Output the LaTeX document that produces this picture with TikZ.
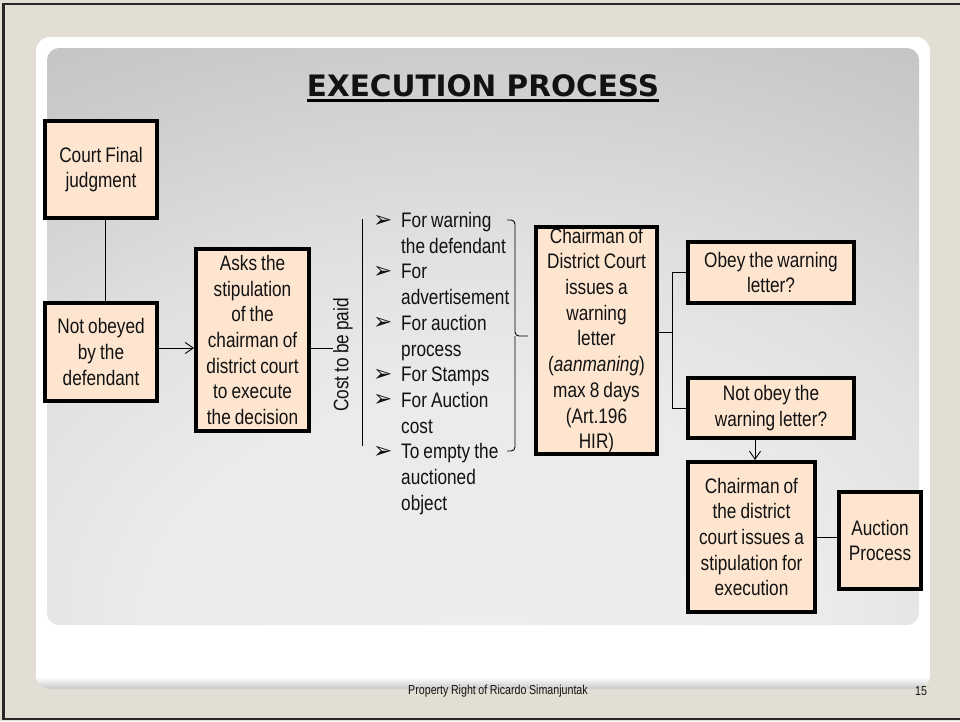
\documentclass[tikz,border=0pt]{standalone}
\usepackage{fontspec}
\setmainfont{Liberation Sans}[FakeStretch=0.82, WordSpace=0.85]
\newfontfamily\headfont{DejaVu Sans}
\newfontfamily\dingfont{DejaVu Sans}
\usetikzlibrary{arrows.meta}

\definecolor{slidebg}{RGB}{227,222,211}
\definecolor{boxfill}{RGB}{253,229,207}
\definecolor{inkc}{RGB}{18,18,18}

% soft grey glow of the content panel, lightest towards the lower middle
\pgfdeclareradialshading{panelglow}{\pgfpoint{0bp}{-30bp}}{%
  rgb(0bp)=(0.93,0.93,0.93); rgb(20bp)=(0.92,0.92,0.92);
  rgb(30bp)=(0.88,0.88,0.88); rgb(45bp)=(0.79,0.79,0.79);
  rgb(58bp)=(0.73,0.73,0.73); rgb(70bp)=(0.69,0.69,0.69);
  rgb(85bp)=(0.64,0.64,0.64); rgb(110bp)=(0.61,0.61,0.61)}

\newcommand\bodytext{\fontsize{21pt}{25.7pt}\selectfont}
\newcommand\bulletmark{\makebox[28pt][l]{\raisebox{0.5pt}{\dingfont\fontsize{23pt}{23pt}\selectfont ➢}}}

\begin{document}
\begin{tikzpicture}[x=1pt,y=-1pt,
  every node/.style={inner sep=0pt, text=inkc},
  flowbox/.style={draw=black, line width=3.8pt, fill=boxfill, align=flush center, font=\bodytext},
  link/.style={line width=0.9pt, draw=black},
  arrowlink/.style={link, -{Straight Barb[length=8pt,width=11pt]}}]

\useasboundingbox (0,0) rectangle (960,721);

% slide background and frame
\fill[slidebg] (0,0) rectangle (960,721);
\draw[line width=2.4pt, black!85] (966,4) -- (3.5,4) -- (3.5,719) -- (966,719);

% white card with a soft lower edge
\begin{scope}
  \clip[rounded corners=14pt] (36,37) rectangle (930,689);
  \fill[white] (36,37) rectangle (930,689);
  \shade[top color=white, bottom color=black!22] (36,677) rectangle (930,689);
\end{scope}

% grey content panel
\shade[shading=panelglow, rounded corners=12pt] (47,48) rectangle (919,625);

% heading
\node[anchor=base, font=\headfont\bfseries\fontsize{29.5pt}{33pt}\selectfont] (title) at (483,96.7) {EXECUTION PROCESS};
\draw[line width=2.8pt, black] ([yshift=-3.4pt]title.base west) -- ([yshift=-3.4pt]title.base east);

% process boxes
\node[flowbox, minimum width=112.2pt, minimum height=97.2pt, text width=108pt] (court) at (101,169.5) {Court Final\\judgment};
\node[flowbox, minimum width=112.2pt, minimum height=98.2pt, text width=108pt] (notob) at (101,352) {Not obeyed\\by the\\defendant};
\node[flowbox, minimum width=113.2pt, minimum height=182.2pt, text width=110pt] (asks) at (252.5,340) {Asks the\\stipulation\\of the\\chairman of\\district court\\to execute\\the decision};
\node[flowbox, minimum width=121.2pt, minimum height=227.2pt, text width=117pt] (chair) at (596.5,340.5) {Chairman of\\District Court\\issues a\\warning\\letter\\(\textit{aanmaning})\\max 8 days\\(Art.196\\HIR)};
\node[flowbox, minimum width=166.2pt, minimum height=61.2pt, text width=160pt] (obey) at (771,272.5) {Obey the warning\\letter?};
\node[flowbox, minimum width=166.2pt, minimum height=60.2pt, text width=160pt] (notobey) at (771,408) {Not obey the\\warning letter?};
\node[flowbox, minimum width=127.2pt, minimum height=150.2pt, text width=123pt] (stip) at (751.5,537) {Chairman of\\the district\\court issues a\\stipulation for\\execution};
\node[flowbox, minimum width=82.2pt, minimum height=97.2pt, text width=78pt] (auction) at (880,540.5) {Auction\\Process};

% cost label and list of costs
\node[rotate=90, font=\bodytext] (costlbl) at (343,355) {Cost to be paid};
\coordinate (vtop) at (362,219);
\coordinate (vbot) at (362,446);
\node[anchor=base west, font=\bodytext] (costs) at (373,227.5) {%
  \begin{tabular}[t]{@{}p{28pt}@{}l@{}}
  \bulletmark & For warning\\
              & the defendant\\
  \bulletmark & For\\
              & advertisement\\
  \bulletmark & For auction\\
              & process\\
  \bulletmark & For Stamps\\
  \bulletmark & For Auction\\
              & cost\\
  \bulletmark & To empty the\\
              & auctioned\\
              & object
  \end{tabular}};

% brace gathering the costs
\coordinate (btop) at (507,220);
\coordinate (bbot) at (507,451);
\coordinate (btip) at (528,336);
\coordinate (fork) at (672,332);

% connectors
\draw[link] ([xshift=4pt]court.south) -- ([xshift=4pt]notob.north);
\draw[arrowlink] ([yshift=4pt]notob.east) -- ([yshift=4pt]notob.east -| asks.west);
\draw[link] ([yshift=-8pt]asks.east) -- ([yshift=-8pt]asks.east -| costlbl.north);
\draw[link] (vtop) -- (vbot);
\draw[link, rounded corners=4pt] (btop) -| (515,336) -- (btip);
\draw[link, rounded corners=4pt] (bbot) -| (515,336);
\draw[link] (chair.east |- fork) -- (fork);
\draw[link] (obey.west) -| (fork) |- (notobey.west);
\draw[arrowlink] ([xshift=3.5pt]stip.north |- notobey.south) -- ([xshift=3.5pt]stip.north);
\draw[link] (stip.east) -- (stip.east -| auction.west);

% footer
\node[font=\fontsize{13pt}{15pt}\selectfont] (footer) at (498,691) {Property Right of Ricardo Simanjuntak};
\node[font=\fontsize{13pt}{15pt}\selectfont] (pageno) at (921,691) {15};
\end{tikzpicture}
\end{document}
